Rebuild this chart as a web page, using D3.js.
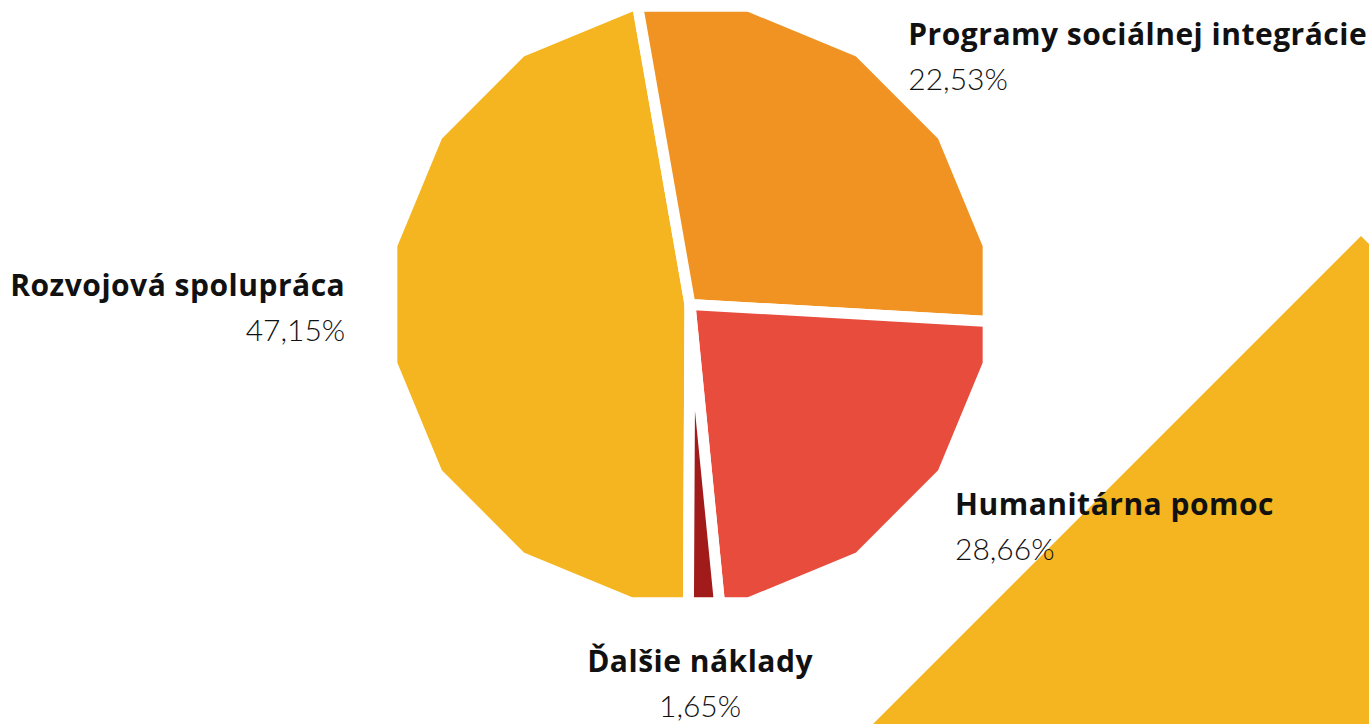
<!DOCTYPE html>
<html>
<head>
<meta charset="utf-8">
<script src="https://cdn.jsdelivr.net/npm/d3@7"></script>
<style>
  html, body { margin: 0; padding: 0; background: #fff; }
  svg { display: block; }
  .title { font-family: "Open Sans", Lato, sans-serif; font-weight: 700; font-size: 30px; letter-spacing: 0.5px; fill: #111; }
  .pct { font-family: Lato, "Open Sans", sans-serif; font-weight: 300; font-size: 30px; fill: #111; }
</style>
</head>
<body>
<svg id="chart"></svg>
<script>
const categories = ['Rozvojová spolupráca', 'Programy sociálnej integrácie', 'Humanitárna pomoc', 'Ďalšie náklady'];
const values = [47.15, 22.53, 28.66, 1.65];
const sliceColors = ['#F4B520', '#F09322', '#E84C3D', '#A11B1B'];

const width = 1369, height = 724;
const svg = d3.select('#chart').attr('width', width).attr('height', height);

// dekoračný trojuholník vpravo dole
const tri = { x: 1361, y: 236 };
svg.append('path')
  .attr('d', d3.line()([[tri.x, tri.y], [tri.x + 700, tri.y + 700], [tri.x - 700, tri.y + 700]]) + 'Z')
  .attr('fill', '#F4B520');

const cx = 690, cy = 304.5, R = 304;
const sides = 16;
const step = 2 * Math.PI / sides;
const startA = 180.3 * Math.PI / 180;

// bod na hranici 16-uholníka v danom uhle
function polyPoint(a) {
  const apothem = R * Math.cos(step / 2);
  const k = Math.round(a / step);
  const r = apothem / Math.cos(a - k * step);
  return [r * Math.sin(a), -r * Math.cos(a)];
}

function slicePath(d) {
  const pts = [[0, 0], polyPoint(d.startAngle)];
  const j0 = Math.ceil((d.startAngle - step / 2) / step);
  const j1 = Math.floor((d.endAngle - step / 2) / step);
  for (let j = j0; j <= j1; j++) {
    const v = step / 2 + j * step;
    if (v > d.startAngle && v < d.endAngle) pts.push([R * Math.sin(v), -R * Math.cos(v)]);
  }
  pts.push(polyPoint(d.endAngle));
  return d3.line()(pts) + 'Z';
}

const arcs = d3.pie()
  .startAngle(startA)
  .endAngle(startA + 2 * Math.PI)(values);
const slots = arcs.slice().sort((a, b) => a.startAngle - b.startAngle);

const g = svg.append('g').attr('transform', `translate(${cx},${cy})`);

g.selectAll('path.slice')
  .data(slots)
  .join('path')
    .attr('class', 'slice')
    .attr('d', slicePath)
    .attr('fill', (d, i) => sliceColors[i])
    .attr('stroke', '#fff')
    .attr('stroke-width', 11)
    .attr('stroke-linejoin', 'miter');

// popisky – umiestnené podľa poradia výsekov
const labelR = 345;
const labelNudge = [[-1, -37], [-11, -2], [16, -28], [-6, 23]];
const labels = svg.append('g')
  .selectAll('g')
  .data(categories)
  .join('g')
    .attr('transform', (name, i) => {
      const s = slots[i];
      const mid = (s.startAngle + s.endAngle) / 2;
      const x = cx + labelR * Math.sin(mid) + labelNudge[i][0];
      const y = cy - labelR * Math.cos(mid) + labelNudge[i][1];
      return `translate(${x},${y})`;
    })
    .attr('text-anchor', (name, i) => {
      const s = slots[i];
      const sin = Math.sin((s.startAngle + s.endAngle) / 2);
      return sin > 0.3 ? 'start' : sin < -0.3 ? 'end' : 'middle';
    });

labels.append('text')
  .attr('class', 'title')
  .text(d => d);

labels.append('text')
  .attr('class', 'pct')
  .attr('y', 45)
  .text((d, i) => values[i].toFixed(2).replace('.', ',') + '%');
</script>
</body>
</html>
